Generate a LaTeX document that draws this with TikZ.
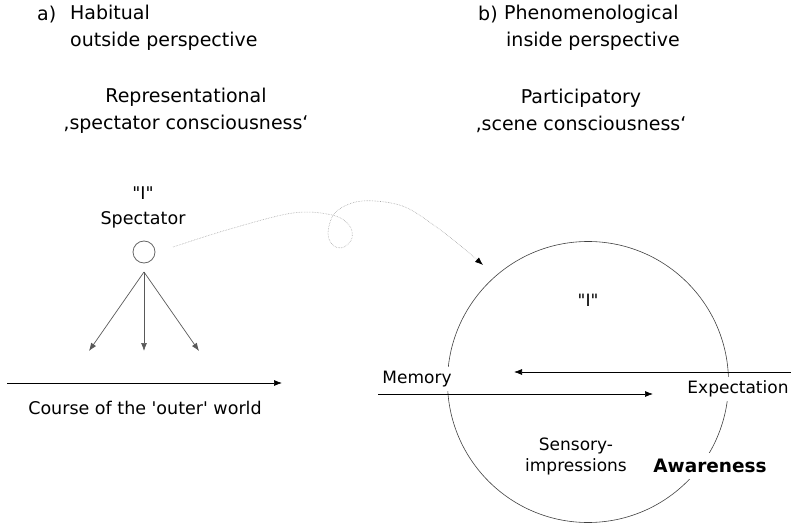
\documentclass[tikz,border=0pt]{standalone}
\usepackage{fontspec}
\setmainfont{DejaVu Sans}[Ligatures=TeXOff]
\usetikzlibrary{positioning,arrows.meta}

\begin{document}
\begin{tikzpicture}[
  x = 1pt,
  y = -1pt,
  txt/.style = {
    inner sep = 0pt,
    font = \fontsize{17}{27}\selectfont,
  },
  head/.style = {
    txt,
    font = \fontsize{19}{27}\selectfont,
  },
  cover/.style = {
    txt,
    fill = white,
    inner sep = 4pt,
  },
  ray/.style = {
    draw = black!65,
    line width = 0.7pt,
    ->,
  },
  dream/.style = {
    draw = black!35,
    densely dotted,
    line width = 0.6pt,
    -{Latex[length=8pt,width=6pt,black]},
  },
  >={Latex[length=8pt,width=6pt]},
]

  \useasboundingbox (0,0) rectangle (791,526);

  % headings
  \node[head, anchor=west] (la) at (37,15) {a)};
  \node[head, anchor=west, align=left] (habit) at (70,28) {Habitual\\outside perspective};
  \node[head, align=center] (repr) at (186,111) {Representational\\‚spectator consciousness‘};

  \node[head, anchor=west] (lb) at (478,15) {b)};
  \node[head, anchor=west, align=left] (pheno) at (504,28) {Phenomenological\\\hspace{2pt}inside perspective};
  \node[head, align=center] (part) at (581,111) {Participatory\\‚scene consciousness‘};

  % left: the spectator
  \node[txt, align=center, font=\fontsize{17.5}{25}\selectfont] (spec) at (143,207) {"I"\\Spectator};
  \node[draw=black!60, line width=0.8pt, circle, minimum size=22pt, inner sep=0pt] (ego) at (144,252) {};

  \coordinate (apex) at (144,272);
  \coordinate (t1) at (89,351);
  \coordinate (t2) at (144,351);
  \coordinate (t3) at (199,351);
  \draw[ray] (apex) -- (t1);
  \draw[ray] (apex) -- (t2);
  \draw[ray] (apex) -- (t3);

  \coordinate (w0) at (7,383);
  \coordinate (w1) at (282,383);
  \draw[ray, draw=black] (w0) -- (w1);
  \node[txt, font=\fontsize{17.5}{25}\selectfont] (world) at (145,408) {Course of the 'outer' world};

  % right: the scene
  \node[draw=black!75, line width=0.6pt, circle, minimum size=281pt, inner sep=0pt] (scene) at (588,382) {};
  \node[txt] (ego2) at (588,300) {"I"};

  \node[cover] (mem) at (417,379) {Memory};
  \node[cover] (expe) at (738,389) {Expectation};
  \node[cover, align=center] (sens) at (576,456) {Sensory-\\[-6pt]impressions};
  \node[cover, font=\fontsize{18.5}{23}\selectfont\bfseries, inner sep=6pt] (aware) at (710,466) {Awareness};

  \coordinate (m0) at (378,394);
  \coordinate (m1) at (653,394);
  \coordinate (e0) at (791,372);
  \coordinate (e1) at (514,372);
  \draw[ray, draw=black] (m0) -- (m1);
  \draw[ray, draw=black] (e0) -- (e1);

  % the leap from outside to inside
  \coordinate (leap0) at (173,247);
  \coordinate (leap1) at (483,265);
  \draw[dream] plot[smooth, tension=0.6] coordinates {
    (leap0) (230,229) (293,213) (332,215) (349,225) (352,238)
    (344,247) (334,246) (328,234) (334,214) (352,203) (375,201)
    (405,207) (435,226) (462,247) (leap1)};
\end{tikzpicture}
\end{document}
